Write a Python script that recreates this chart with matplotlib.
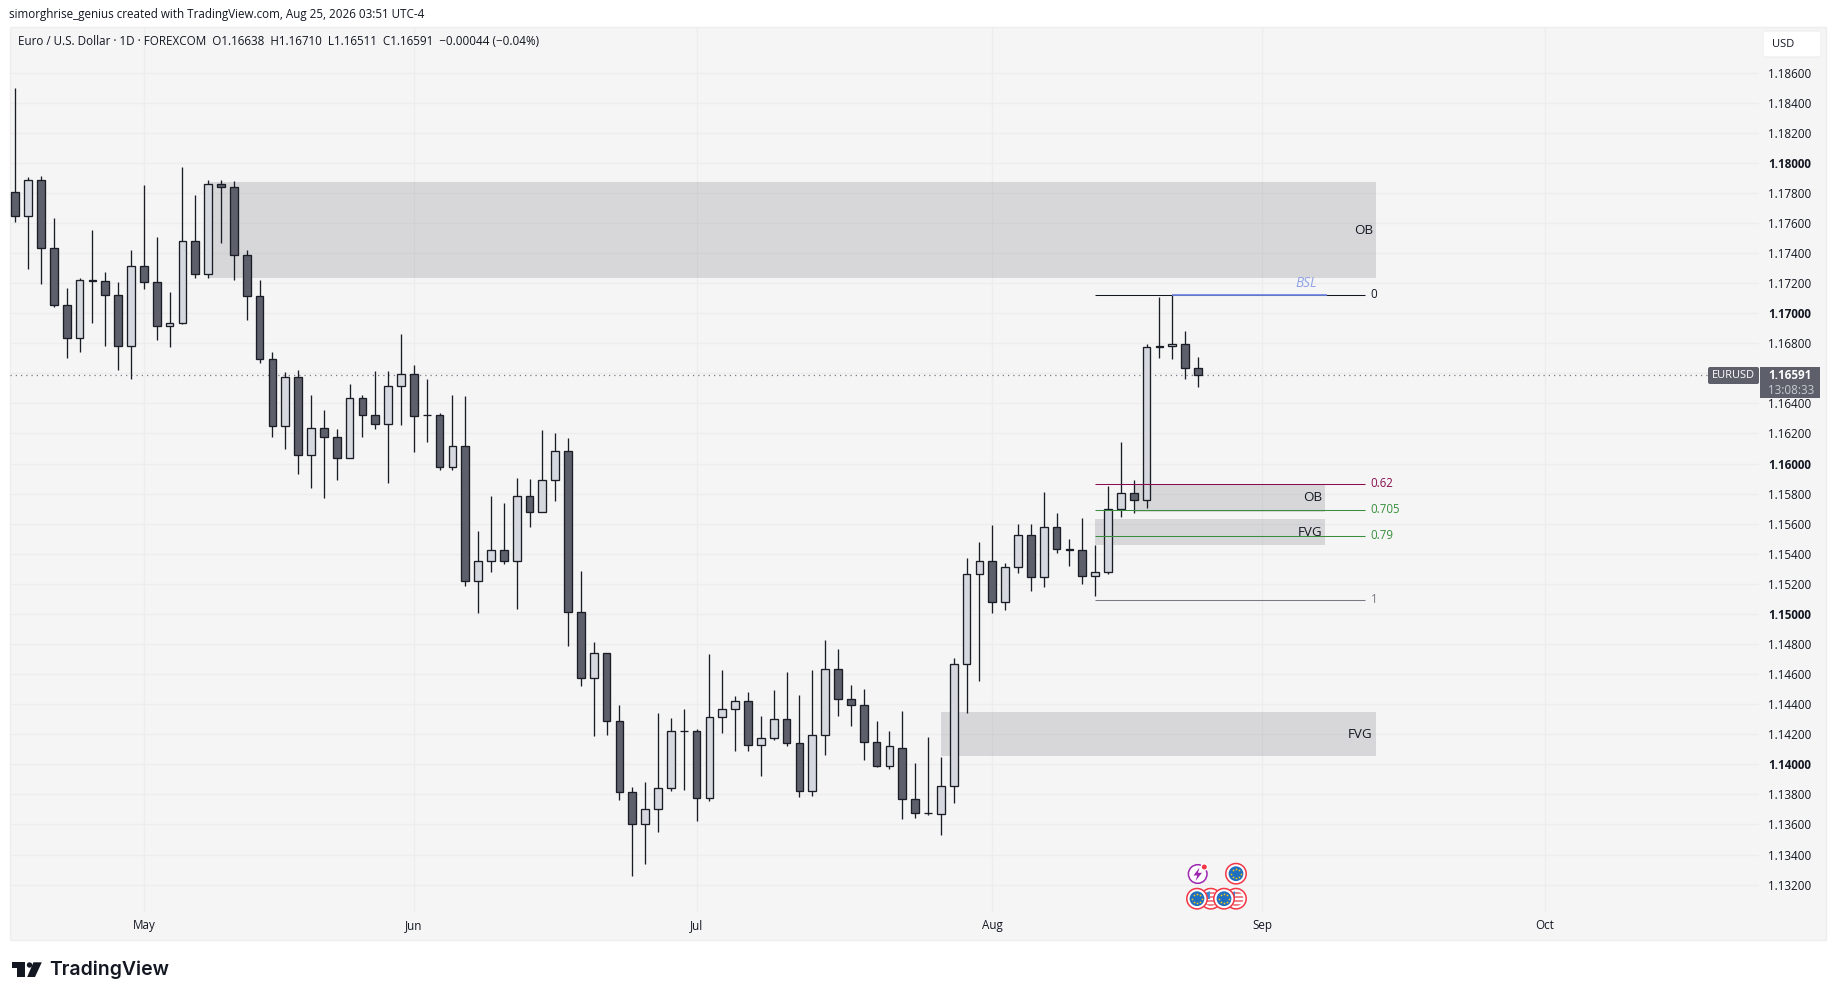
import matplotlib
matplotlib.use("Agg")
import matplotlib.pyplot as plt
from matplotlib.patches import Rectangle, Circle, Polygon, FancyBboxPatch
import numpy as np

W, H = 1835, 1000
FONT = ["Open Sans", "DejaVu Sans"]
plt.rcParams["font.family"] = FONT

opens = [1.17803,1.17644,1.17883,1.17432,1.17053,1.16834,1.17219,1.17212,1.17120,1.16781,
 1.17312,1.17206,1.16914,1.16934,1.17478,1.17259,1.17856,1.17836,1.17385,1.17113,
 1.16695,1.16250,1.16575,1.16057,1.16237,1.16177,1.16037,1.16436,1.16323,1.16263,
 1.16515,1.16595,1.16323,1.16323,1.15978,1.16114,1.15216,1.15349,1.15423,1.15354,
 1.15782,1.15675,1.15889,1.16081,1.15012,1.14573,1.14739,1.14285,1.13815,1.13601,
 1.13701,1.13841,1.14219,1.14219,1.13775,1.14314,1.14366,1.14418,1.14126,1.14174,
 1.14300,1.14141,1.13822,1.14193,1.14632,1.14433,1.14392,1.14148,1.13989,1.14111,
 1.13766,1.13677,1.13672,1.13859,1.14667,1.15267,1.15353,1.15079,1.15314,1.15528,
 1.15247,1.15575,1.15435,1.15422,1.15254,1.15279,1.15701,1.15807,1.15756,1.16783,
 1.16783,1.16795,1.16638]
highs = [1.18496,1.17905,1.17912,1.17633,1.17168,1.17232,1.17553,1.17272,1.17206,1.17420,
 1.17852,1.17507,1.17142,1.17972,1.17786,1.17883,1.17883,1.17876,1.17418,1.17221,
 1.16741,1.16608,1.16622,1.16458,1.16358,1.16232,1.16531,1.16458,1.16615,1.16615,
 1.16861,1.16655,1.16562,1.16336,1.16458,1.16449,1.15551,1.15784,1.15739,1.15903,
 1.15898,1.16223,1.16204,1.16171,1.15285,1.14815,1.14739,1.14395,1.13848,1.13884,
 1.14342,1.14309,1.14369,1.14236,1.14734,1.14627,1.14454,1.14483,1.14321,1.14494,
 1.14616,1.14461,1.14627,1.14827,1.14768,1.14528,1.14502,1.14288,1.14221,1.14356,
 1.14008,1.14180,1.14047,1.14706,1.15370,1.15477,1.15590,1.15341,1.15598,1.15598,
 1.15810,1.15669,1.15496,1.15637,1.15457,1.15854,1.16143,1.15889,1.16795,1.17111,
 1.17123,1.16879,1.16710]
lows = [1.17609,1.17297,1.17197,1.17038,1.16699,1.16739,1.16938,1.16779,1.16619,1.16560,
 1.17164,1.16819,1.16772,1.16925,1.17237,1.17237,1.17469,1.17224,1.16958,1.16666,
 1.16175,1.16095,1.15929,1.15836,1.15770,1.15889,1.16037,1.16175,1.16228,1.15869,
 1.16254,1.16075,1.16141,1.15955,1.15955,1.15188,1.15003,1.15276,1.15335,1.15036,
 1.15575,1.15675,1.15753,1.14784,1.14518,1.14186,1.14198,1.13765,1.13255,1.13340,
 1.13547,1.13820,1.13832,1.13625,1.13753,1.14209,1.14091,1.14091,1.13920,1.14164,
 1.14119,1.13780,1.13787,1.14065,1.14319,1.14252,1.14031,1.13979,1.13972,1.13637,
 1.13645,1.13664,1.13531,1.13743,1.14343,1.14551,1.15005,1.15025,1.15272,1.15151,
 1.15178,1.15405,1.15319,1.15198,1.15119,1.15264,1.15647,1.15672,1.15706,1.16701,
 1.16694,1.16561,1.16511]
closes = [1.17644,1.17883,1.17432,1.17053,1.16834,1.17219,1.17212,1.17120,1.16781,1.17312,
 1.17206,1.16914,1.16934,1.17478,1.17259,1.17856,1.17836,1.17385,1.17113,1.16695,
 1.16250,1.16575,1.16057,1.16237,1.16177,1.16037,1.16436,1.16323,1.16263,1.16515,
 1.16595,1.16316,1.16323,1.15978,1.16117,1.15216,1.15349,1.15423,1.15354,1.15782,
 1.15675,1.15889,1.16081,1.15012,1.14573,1.14739,1.14285,1.13815,1.13601,1.13701,
 1.13841,1.14219,1.14219,1.13775,1.14314,1.14366,1.14418,1.14126,1.14174,1.14300,
 1.14141,1.13822,1.14193,1.14632,1.14433,1.14392,1.14148,1.13989,1.14119,1.13766,
 1.13679,1.13677,1.13859,1.14667,1.15267,1.15353,1.15079,1.15311,1.15528,1.15247,
 1.15575,1.15435,1.15422,1.15254,1.15279,1.15701,1.15807,1.15756,1.16775,1.16775,
 1.16795,1.16635,1.16591]

month_labels = ["May", "Jun", "Jul", "Aug", "Sep", "Oct"]
month_positions = [10, 31, 53, 76, 97, 119]
price_ticks = [1.186,1.184,1.182,1.180,1.178,1.176,1.174,1.172,1.170,1.168,1.164,1.162,1.160,1.158,
               1.156,1.154,1.152,1.150,1.148,1.146,1.144,1.142,1.140,1.138,1.136,1.134,1.132]
grid_extra = [1.166]
zones = [("OB", 15, 105.85, 1.17233, 1.17872),
         ("OB", 87, 101.9, 1.15679, 1.15867),
         ("FVG", 84, 101.9, 1.15457, 1.15630),
         ("FVG", 72, 105.85, 1.14052, 1.14351)]
fib_levels = ["0", "0.62", "0.705", "0.79", "1"]
fib_prices = [1.17123, 1.15867, 1.15694, 1.15521, 1.15094]
fib_colors = ["#131722", "#880e4f", "#388e3c", "#388e3c", "#787b86"]
bsl_start, bsl_end, bsl_price = 90, 102, 1.17123
last_price = 1.16591

DARK, LIGHT, EDGE = "#5d606b", "#d6d8df", "#1b1d26"
PANE, GRID = "#f5f5f5", "#ededed"

fig = plt.figure(figsize=(W / 100, H / 100), dpi=100, facecolor="white")

# chrome in pixel coordinates
ui = fig.add_axes([0, 0, 1, 1], zorder=0)
ui.set_xlim(0, W); ui.set_ylim(H, 0); ui.axis("off")
ui.add_patch(Rectangle((9.5, 27), 1816, 913, fc=PANE, ec="#eeeeee", lw=1))
ui.text(9, 14.5, "simorghrise_genius created with TradingView.com, Aug 25, 2026 03:51 UTC-4",
        fontsize=8.37, color="#131722", va="center")

# chart axes
x0, x1, y0, y1 = 10, 1759, 27, 912
ax = fig.add_axes([x0 / W, 1 - y1 / H, (x1 - x0) / W, (y1 - y0) / H], zorder=1)
ax.patch.set_alpha(0)
px_per_bar = 12.855
ax.set_xlim((x0 - 15.3) / px_per_bar, (x1 - 15.3) / px_per_bar)
p_of_y = lambda y: 1.186 + (72.6 - y) / 15037
ax.set_ylim(p_of_y(y1), p_of_y(y0))
for s in ax.spines.values():
    s.set_visible(False)

ax.set_xticks(month_positions, month_labels)
ax.set_yticks(price_ticks, [f"{p:.5f}" for p in price_ticks])
ax.yaxis.tick_right()
ax.tick_params(axis="both", length=0, colors="#131722")
ax.tick_params(axis="y", pad=6.5, labelsize=8.4)
ax.tick_params(axis="x", pad=4.8, labelsize=8.4)
for lab, p in zip(ax.get_yticklabels(), price_ticks):
    if abs(round(p * 100) - p * 100) < 1e-6:
        lab.set_fontweight("bold")
ax.set_axisbelow(True)
ax.grid(True, color=GRID, lw=1)
ax.hlines(grid_extra, *ax.get_xlim(), color=GRID, lw=1, zorder=0.5)

# zones
for name, a, b, lo, hi in zones:
    ax.add_patch(Rectangle((a, lo), b - a, hi - lo, fc="#787b86", alpha=0.24, lw=0, zorder=1))
    ax.text(b - 0.25, (lo + hi) / 2, name, ha="right", va="center", fontsize=9.6,
            color="#131722", zorder=6)

# candles
idx = np.arange(len(opens))
o, h, l, c = map(np.array, (opens, highs, lows, closes))
up = c > o
ax.vlines(idx, l, h, color=EDGE, lw=0.95, zorder=3)
ax.bar(idx, np.abs(c - o), bottom=np.minimum(o, c), width=0.6,
       color=np.where(up, LIGHT, DARK), edgecolor=EDGE, linewidth=0.95, zorder=4)

# last price line
ax.hlines(last_price, ax.get_xlim()[0], (1708 - 15.3) / px_per_bar, color="#787b86",
          lw=0.9, linestyles=(0, (1, 3.2)), zorder=2)

# fib lines
for lab, p, col in zip(fib_levels, fib_prices, fib_colors):
    ax.hlines(p, 84, 105, color=col, lw=0.75, zorder=5)
    ax.text(105.45, p, lab, color=col, fontsize=8.3, va="center", ha="left", zorder=6)

# BSL
ax.hlines(bsl_price, bsl_start, bsl_end, color="#6f86e0", lw=1.4, alpha=0.9, zorder=5.5)
ax.text(100.4, bsl_price + 0.00027, "BSL", color="#8fa3e6", fontsize=9.8,
        style="italic", ha="center", va="bottom", zorder=6)

# overlay (above chart)
ov = fig.add_axes([0, 0, 1, 1], zorder=2)
ov.set_xlim(0, W); ov.set_ylim(H, 0); ov.axis("off"); ov.patch.set_alpha(0)
ov.text(18, 41.5, "Euro / U.S. Dollar \u00b7 1D \u00b7 FOREXCOM  O1.16638  H1.16710  L1.16511  C1.16591  \u22120.00044 (\u22120.04%)",
        fontsize=8.34, color="#131722", va="center")

ov.add_patch(FancyBboxPatch((1763, 31), 58, 26, boxstyle="round,pad=0,rounding_size=3", fc="white", ec="#f0f0f0", lw=1))
ov.text(1772, 44.5, "USD", fontsize=8, color="#131722", va="center")
ov.add_patch(FancyBboxPatch((1708, 367), 51, 17, boxstyle="round,pad=0,rounding_size=2", fc=DARK, ec="none"))
ov.text(1733.5, 375.7, "EURUSD", fontsize=7.9, color="white", ha="center", va="center")
ov.add_patch(Rectangle((1760, 367), 60, 31, fc=DARK, ec="none"))
ov.text(1768, 375.5, "1.16591", fontsize=8.4, color="white", fontweight="bold", va="center")
ov.text(1768, 390, "13:08:33", fontsize=8.4, color="#c9cbd1", va="center")

# TradingView logo
K = "#131722"
ov.add_patch(Polygon([(12, 962.3), (25, 962.3), (25, 977), (17.3, 977), (17.3, 967.6), (12, 967.6)], fc=K, ec="none"))
ov.add_patch(Circle((29.5, 965), 2.7, fc=K, ec="none"))
ov.add_patch(Polygon([(33.4, 962.3), (41.8, 962.3), (35, 977), (27.2, 977)], fc=K, ec="none"))
ov.text(49, 969.5, "TradingView", fontsize=14, fontweight="semibold", family=["Inter", "DejaVu Sans"],
        color=K, va="center")


def eu(cx, cy):
    ov.add_patch(Circle((cx, cy), 10.2, fc="white", ec="#f23645", lw=1.1))
    ov.add_patch(Circle((cx, cy), 7.4, fc="#1f6fc0", ec="none"))
    a = np.linspace(0, 2 * np.pi, 9)[:-1]
    ov.scatter(cx + 4.7 * np.cos(a), cy + 4.7 * np.sin(a), s=1.6, c="#f5c518", lw=0, zorder=5)


def us(cx, cy):
    ov.add_patch(Circle((cx, cy), 10.2, fc="white", ec="#f23645", lw=1.1))
    clip = Circle((cx, cy), 7.4, transform=ov.transData)
    for dy in (-6, -2, 2, 6):
        r = Rectangle((cx - 8, cy + dy - 1), 16, 2, fc="#f0808a", ec="none")
        ov.add_patch(r); r.set_clip_path(clip)
    r = Rectangle((cx - 8, cy - 8), 7, 8, fc="#3f86d0", ec="none")
    ov.add_patch(r); r.set_clip_path(clip)


ov.add_patch(Circle((1197.7, 874), 9.3, fc="white", ec="#9c27b0", lw=1.1))
ov.add_patch(Polygon([(1199.5, 867.5), (1193.5, 875.5), (1197.3, 875.5), (1195.5, 881), (1202, 872.8), (1198, 872.8)],
                     fc="#9c27b0", ec="none"))
ov.add_patch(Circle((1204.3, 867), 3.2, fc="#f23645", ec="white", lw=1))
eu(1236, 873.7)
us(1236, 898.7); us(1210.7, 898.7)
eu(1224, 898.7); eu(1197, 898.7)

fig.savefig("out.png", dpi=100, facecolor="white")
